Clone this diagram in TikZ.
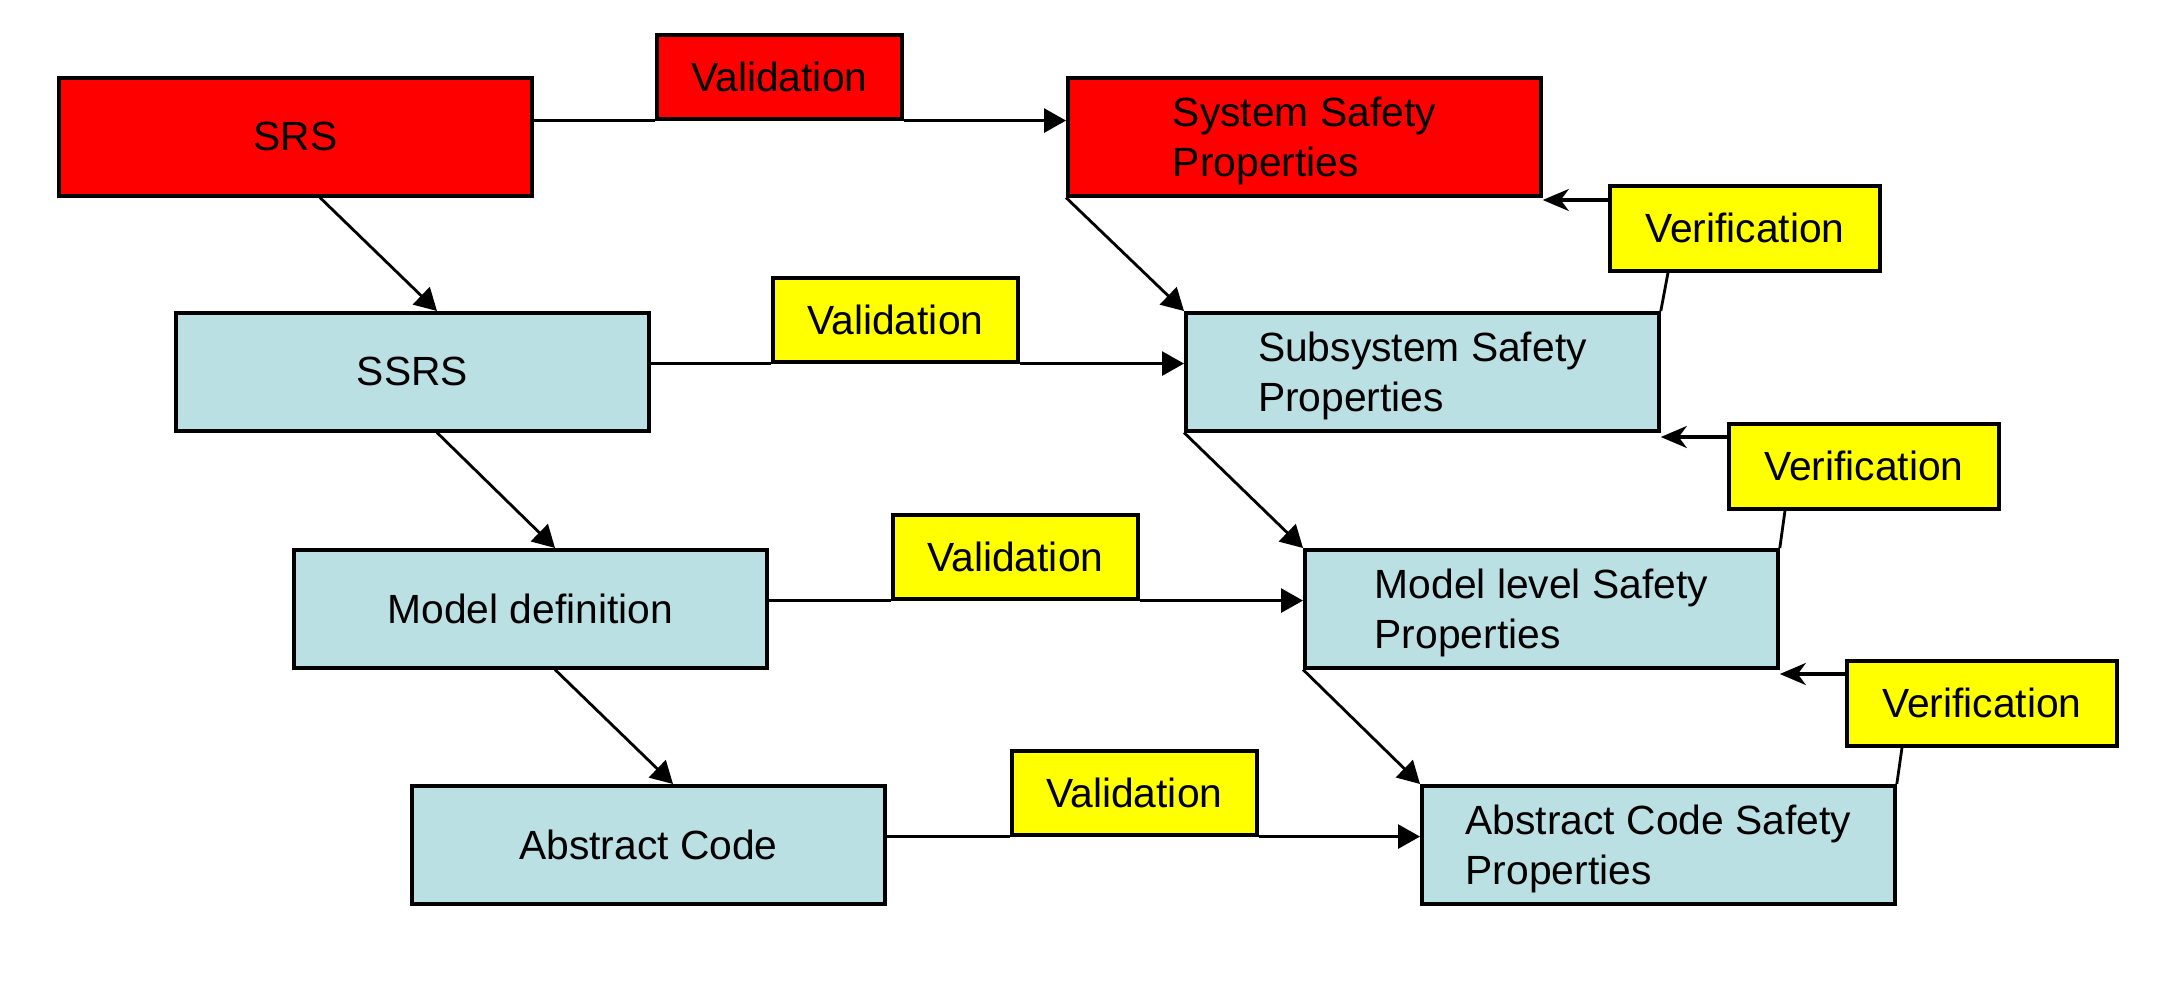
\documentclass[tikz,border=0pt]{standalone}
\usepackage{fontspec}
\setmainfont{Liberation Sans}
\usetikzlibrary{arrows.meta,calc}
\definecolor{boxred}{RGB}{255,0,0}
\definecolor{boxyel}{RGB}{255,255,0}
\definecolor{boxblue}{RGB}{187,224,227}
\newcommand\mytstrut{\rule{0pt}{10.8pt}}
\begin{document}
\begin{tikzpicture}[x=0.01cm,y=-0.01cm,
  txt/.style={font=\fontsize{11.6}{14.2}\selectfont},
  box/.style={txt,draw=black,line width=1pt,minimum width=4.73cm,minimum height=1.18cm,inner sep=0pt,align=left,anchor=north west},
  redbox/.style={box,fill=boxred},
  bluebox/.style={box,fill=boxblue},
  valbox/.style={txt,draw=black,line width=1pt,minimum width=2.45cm,minimum height=0.84cm,inner sep=0pt,anchor=north west},
  verbox/.style={txt,draw=black,line width=1pt,fill=boxyel,minimum width=2.70cm,minimum height=0.85cm,inner sep=0pt,anchor=north west},
  conn/.style={draw=black,line width=0.8pt},
  tri/.style={conn,-{Triangle[length=0.22cm,width=0.24cm]}},
  vconn/.style={draw=black,line width=0.9pt,-{Stealth[length=0.26cm,width=0.22cm,inset=0.08cm]}},
  link/.style={draw=black,line width=0.8pt}]
\useasboundingbox (0,0) rectangle (2161,985);
% left column
\node[redbox]  (srs)  at (57,76)   {SRS};
\node[bluebox] (ssrs) at (174,311) {SSRS};
\node[bluebox] (md)   at (292,548) {Model definition};
\node[bluebox] (ac)   at (410,784) {Abstract Code};
% right column
\node[redbox]  (ssp) at (1066,76)  {\mytstrut System Safety\\Properties};
\node[bluebox] (sub) at (1184,311) {\mytstrut Subsystem Safety\\Properties};
\node[bluebox] (mls) at (1303,548) {\mytstrut Model level Safety\\Properties};
\node[bluebox] (acs) at (1420,784) {\mytstrut Abstract Code Safety\\Properties};
% validation boxes
\node[valbox,fill=boxred] (val1) at (655,33)  {Validation};
\node[valbox,fill=boxyel] (val2) at (771,276) {Validation};
\node[valbox,fill=boxyel] (val3) at (891,513) {Validation};
\node[valbox,fill=boxyel] (val4) at (1010,749) {Validation};
% verification boxes
\node[verbox] (ver1) at (1608,184) {Verification};
\node[verbox] (ver2) at (1727,422) {Verification};
\node[verbox] (ver3) at (1845,659) {Verification};
% left diagonal arrows
\draw[tri] ($(srs.south west)+(263,0)$) -- ($(ssrs.north west)+(263,0)$);
\draw[tri] ($(ssrs.south west)+(263,0)$) -- ($(md.north west)+(263,0)$);
\draw[tri] ($(md.south west)+(263,0)$) -- ($(ac.north west)+(263,0)$);
% right diagonal arrows
\draw[tri] (ssp.south west) -- (sub.north west);
\draw[tri] (sub.south west) -- (mls.north west);
\draw[tri] (mls.south west) -- (acs.north west);
% validation lines
\draw[conn] (srs.east |- val1.south) -- (val1.south west);
\draw[tri] (val1.south east) -- (ssp.west |- val1.south);
\draw[conn] (ssrs.east |- val2.south) -- (val2.south west);
\draw[tri] (val2.south east) -- (sub.west |- val2.south);
\draw[conn] (md.east |- val3.south) -- (val3.south west);
\draw[tri] (val3.south east) -- (mls.west |- val3.south);
\draw[conn] (ac.east |- val4.south) -- (val4.south west);
\draw[tri] (val4.south east) -- (acs.west |- val4.south);
% verification arrows
\coordinate (v1a) at ($(ver1.north west)+(0,16)$);
\coordinate (v2a) at ($(ver2.north west)+(0,15)$);
\coordinate (v3a) at ($(ver3.north west)+(0,15)$);
\draw[vconn] (v1a) -- (ssp.east |- v1a);
\draw[vconn] (v2a) -- (sub.east |- v2a);
\draw[vconn] (v3a) -- (mls.east |- v3a);
% verification links
\draw[link] ($(ver1.south west)+(60,0)$) -- (sub.north east);
\draw[link] ($(ver2.south west)+(58,0)$) -- (mls.north east);
\draw[link] ($(ver3.south west)+(57,0)$) -- (acs.north east);
\end{tikzpicture}
\end{document}
